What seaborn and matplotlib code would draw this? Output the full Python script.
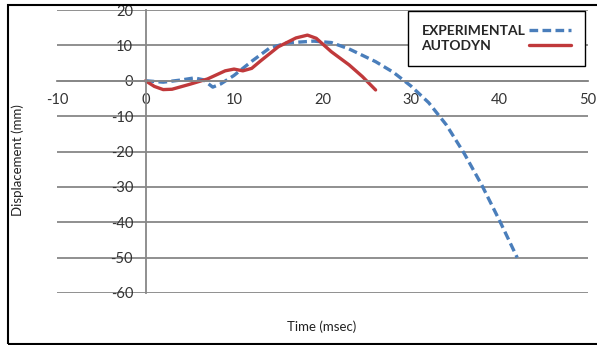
import numpy as np
import pandas as pd
import matplotlib.pyplot as plt
import seaborn as sns
from matplotlib.patches import Rectangle

# values
exp_time = [0, 2, 4, 5.5, 6.5, 7.6, 8.5, 10, 12, 14, 16, 19, 21, 23, 26, 28, 30, 32, 34, 36, 38, 40, 42]
exp_disp = [0, -0.4, 0.2, 0.8, 0.3, -1.8, -0.9, 1.5, 5.5, 9.2, 10.7, 11.2, 10.8, 9.0, 5.4, 2.4, -1.5, -6.2, -12.5, -20.5, -29.5, -39.5, -50]
auto_time = [0, 1, 2, 3, 5, 7, 9, 10, 11, 12, 13, 15, 17, 18.3, 19.3, 21, 23, 24.5, 26]
auto_disp = [0, -1.6, -2.5, -2.4, -1.0, 0.5, 2.8, 3.3, 2.8, 3.5, 5.6, 9.6, 12.1, 12.9, 12.0, 8.2, 4.5, 1.2, -2.6]

df_exp = pd.DataFrame({'time': exp_time, 'disp': exp_disp})
df_auto = pd.DataFrame({'time': auto_time, 'disp': auto_disp})

sns.set_style("white")
plt.rcParams['font.family'] = ['Lato', 'DejaVu Sans']
plt.rcParams['axes.unicode_minus'] = False

fig = plt.figure(figsize=(5.97, 3.45), dpi=100)
ax = fig.add_axes([57 / 597, 1 - 293 / 345, 531 / 597, 283 / 345])

sns.lineplot(data=df_exp, x='time', y='disp', ax=ax, color='#4a7ebb', lw=2.4,
             sort=False, estimator=None, label='EXPERIMENTAL')
sns.lineplot(data=df_auto, x='time', y='disp', ax=ax, color='#c0393b', lw=2.4,
             sort=False, estimator=None, label='AUTODYN')
ax.lines[0].set_dashes((2.6, 1.3))

ax.set_xlim(-10, 50)
ax.set_ylim(-60, 20)
ax.set_xticks(range(-10, 51, 10))
ax.set_yticks(range(-60, 21, 10))
ax.set_xlabel('')
ax.set_ylabel('')

grey = '#878787'
ax.yaxis.grid(True, color=grey, lw=1.3)
ax.xaxis.grid(False)
ax.set_axisbelow(True)
for s in ['top', 'right']:
    ax.spines[s].set_visible(False)
ax.spines['left'].set_position(('data', 0))
ax.spines['bottom'].set_position(('data', 0))
for s in ['left', 'bottom']:
    ax.spines[s].set_color(grey)
    ax.spines[s].set_linewidth(1.3)
ax.tick_params(axis='both', colors=grey, labelcolor='#333333', labelsize=10.5,
               direction='out', length=3, width=1.2)
ax.tick_params(axis='x', pad=6)
ax.tick_params(axis='y', pad=6)

leg = ax.legend(loc='upper right', bbox_to_anchor=(585 / 597, 1 - 11 / 345),
                bbox_transform=fig.transFigure, markerfirst=False, fancybox=False,
                edgecolor='black', framealpha=1, handlelength=3.0, handletextpad=0.3,
                borderpad=1.0, labelspacing=0.2, borderaxespad=0,
                prop={'weight': 'bold', 'size': 10})
leg.get_frame().set_linewidth(1.0)

# left-align the legend labels while keeping the lines on the right
fig.canvas.draw()
rows = leg._legend_handle_box.get_children()[0].get_children()
widths = [t.get_window_extent().width * 72 / fig.dpi for t in leg.texts]
for row, w in zip(rows, widths):
    row.sep = row.sep + (max(widths) - w)

fig.text(18 / 597, 1 - 160 / 345, 'Displacement (mm)', rotation=90,
         ha='center', va='center', fontsize=9.5, color='#222222')
fig.text(322 / 597, 1 - 327 / 345, 'Time (msec)', ha='center', va='center',
         fontsize=9.5, color='#222222')

fig.add_artist(Rectangle((8 / 597, 1 / 345), 1.0, 339 / 345, transform=fig.transFigure,
                         fill=False, ec='black', lw=1.5, clip_on=False))

fig.savefig('out.png', dpi=100)
